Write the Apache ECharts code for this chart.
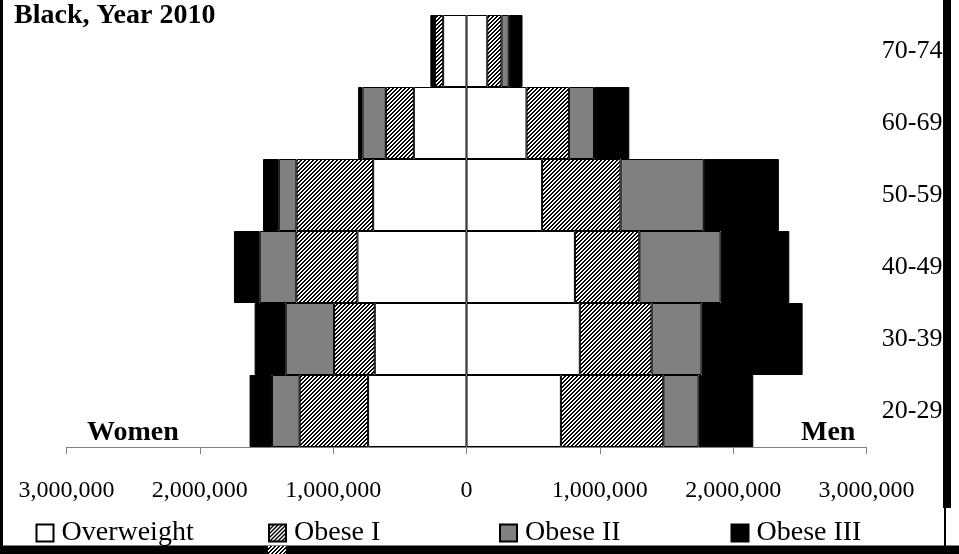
<!DOCTYPE html>
<html><head><meta charset="utf-8">
<script src="https://cdn.jsdelivr.net/npm/echarts@6/dist/echarts.min.js"></script>
<style>html,body{margin:0;padding:0;background:#fff}#c{width:959px;height:554px}</style>
</head><body><div id="c"></div>
<script>
// ---- data ----
const categories = ['20-29', '30-39', '40-49', '50-59', '60-69', '70-74'];
const seriesNames = ['Overweight', 'Obese I', 'Obese II', 'Obese III'];
// Women (drawn to the left)
const womenOverweight = [738000, 688000, 818000, 700000, 395000, 175000];
const womenObeseI     = [513000, 305000, 458000, 575000, 210000, 62000];
const womenObeseII    = [208000, 363000, 275000, 133000, 175000, 4000];
const womenObeseIII   = [168000, 233000, 193000, 118000, 33000, 30000];
// Men (drawn to the right)
const menOverweight = [708000, 850000, 813000, 567000, 450000, 156000];
const menObeseI     = [768000, 538000, 483000, 588000, 318000, 106000];
const menObeseII    = [265000, 375000, 610000, 625000, 188000, 55000];
const menObeseIII   = [410000, 758000, 515000, 563000, 265000, 103000];
const xMin = -3000000, xMax = 3000000, xStep = 1000000;
const titleText = 'Black, Year 2010';
const leftLabel = 'Women', rightLabel = 'Men';

// ---- styling ----
const FONT = '"Liberation Serif", "Times New Roman", serif';
function makeHatch() {
  const c = document.createElement('canvas');
  c.width = 4; c.height = 4;
  const ctx = c.getContext('2d');
  ctx.fillStyle = '#fff'; ctx.fillRect(0, 0, 4, 4);
  ctx.fillStyle = '#000';
  for (let y = 0; y < 4; y++) for (let x = 0; x < 4; x++) {
    if (((x + y) % 4) < 2) ctx.fillRect(x, y, 1, 1);
  }
  return c;
}
const hatch = { image: makeHatch(), repeat: 'repeat' };
const fills = ['#ffffff', hatch, '#808080', '#000000'];
const womenSets = [womenOverweight, womenObeseI, womenObeseII, womenObeseIII];
const menSets = [menOverweight, menObeseI, menObeseII, menObeseIII];

const series = [];
for (let i = 0; i < 4; i++) {
  const common = {
    type: 'bar', name: seriesNames[i], stack: 'all', barCategoryGap: '0%', silent: true,
    itemStyle: { color: fills[i], borderColor: '#000', borderWidth: 1 },
    emphasis: { disabled: true }, animation: false
  };
  series.push(Object.assign({}, common, { data: womenSets[i].map(v => -v) }));
  series.push(Object.assign({}, common, { data: menSets[i].slice() }));
}

const legendLeft = [35.5, 268, 499, 730.5];
const legends = seriesNames.map((n, i) => ({
  data: [n], left: legendLeft[i], top: 519, padding: 0, itemGap: 0,
  itemWidth: 17, itemHeight: 17, icon: 'rect', selectedMode: false,
  textStyle: { fontFamily: FONT, fontSize: 28, color: '#000', padding: [0, 0, 0, 3] }
}));

const chart = echarts.init(document.getElementById('c'), null, { renderer: 'canvas' });
chart.setOption({
  animation: false,
  backgroundColor: '#fff',
  grid: { left: 66.5, right: 92.5, top: 15, bottom: 107, containLabel: false, outerBoundsMode: 'none' },
  xAxis: {
    type: 'value', min: xMin, max: xMax, interval: xStep,
    axisLine: { show: true, onZero: false, lineStyle: { color: '#808080', width: 1 } },
    axisTick: { show: true, length: 7, lineStyle: { color: '#808080' } },
    splitLine: { show: false },
    axisLabel: { margin: 32, fontFamily: FONT, fontSize: 24, color: '#000',
      formatter: v => Math.abs(v).toLocaleString('en-US') }
  },
  yAxis: {
    type: 'category', data: categories, position: 'right',
    axisLine: { show: false }, axisTick: { show: false }, splitLine: { show: false },
    axisLabel: { align: 'right', margin: 76, fontFamily: FONT, fontSize: 26, color: '#000' }
  },
  legend: legends,
  series: series,
  graphic: [
    { type: 'text', left: 14, top: 2, style: { text: titleText, font: 'bold 28px ' + FONT, fill: '#000' } },
    { type: 'text', left: 87, top: 419, style: { text: leftLabel, font: 'bold 28px ' + FONT, fill: '#000' } },
    { type: 'text', left: 801, top: 419, style: { text: rightLabel, font: 'bold 28px ' + FONT, fill: '#000' } },
    { type: 'rect', shape: { x: 0, y: 0, width: 3, height: 554 }, style: { fill: '#000' } },
    { type: 'rect', shape: { x: 943, y: 0, width: 8, height: 508 }, style: { fill: '#000' } },
    { type: 'rect', shape: { x: 944, y: 508, width: 2, height: 38 }, style: { fill: '#000' } },
    { type: 'rect', shape: { x: 0, y: 545.5, width: 959, height: 9 }, style: { fill: '#000' } },
    { type: 'rect', shape: { x: 268, y: 546, width: 18, height: 8 }, style: { fill: hatch } }
  ]
});
</script>
</body></html>
